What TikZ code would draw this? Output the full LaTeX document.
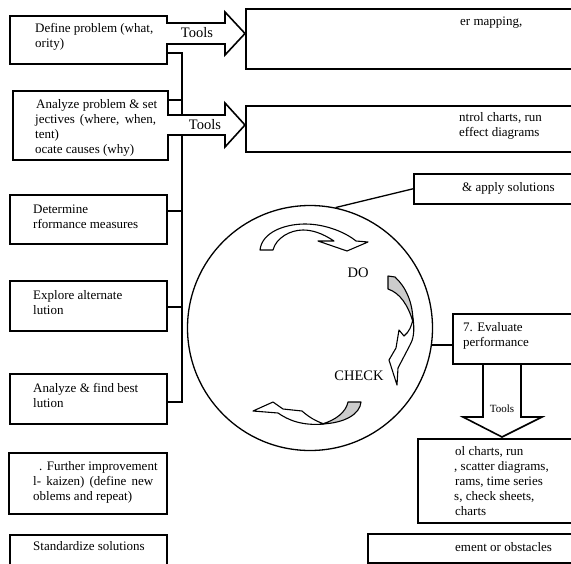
\documentclass[tikz,border=0pt]{standalone}
\usepackage{fontspec}
\setmainfont{Liberation Serif}
\usetikzlibrary{positioning}

\begin{document}
\begin{tikzpicture}[x=1pt,y=-1pt,
    stepbox/.style={draw,line width=1.6pt,inner sep=0pt,anchor=north west,minimum width=157pt},
    boxtext/.style={inner sep=0pt,align=left,font=\fontsize{13}{15}\selectfont},
    blockarrow/.style={draw,line width=1.6pt,fill=white},
    bendarrow/.style={draw,line width=1.1pt,fill=white,line join=round},
    busline/.style={line width=1.6pt}]
  \useasboundingbox (0,0) rectangle (571,563);

  % left column of steps
  \node[stepbox,minimum height=48pt] (define) at (9,15) {};
  \node[stepbox,minimum width=155pt,minimum height=69pt] (analyze) at (12,90) {};
  \node[stepbox,minimum height=49pt] (measure) at (9,194) {};
  \node[stepbox,minimum height=50pt] (explore) at (9,280) {};
  \node[stepbox,minimum height=50pt] (best) at (9,373) {};
  \node[stepbox,minimum width=158pt,minimum height=61pt] (further) at (8,452) {};
  \node[stepbox,minimum height=40pt] (standard) at (9,534) {};

  \node[boxtext,right=26pt of define.west,yshift=2.5pt] (definetext) {Define problem (what,\\ority)};
  \node[boxtext,right=23pt of analyze.west,yshift=-3pt] (analyzetext)
    {\hspace*{1pt}Analyze problem \& set\\\makebox[121pt][s]{jectives (where, when,}\\tent)\\ocate causes (why)};
  \node[boxtext,right=24pt of measure.west,yshift=3pt] (measuretext) {Determine\\rformance measures};
  \node[boxtext,right=24pt of explore.west,yshift=3.5pt] (exploretext) {Explore alternate\\lution};
  \node[boxtext,right=24pt of best.west,yshift=3.5pt] (besttext) {Analyze \& find best\\lution};
  \node[boxtext,right=25pt of further.west,yshift=0.5pt] (furthertext)
    {\hspace*{6pt}. Further improvement\\\makebox[120pt][s]{l- kaizen) (define new}\\oblems and repeat)};
  \node[boxtext,below right=7.5pt and 24pt of standard.north west] (standardtext) {Standardize solutions};

  % bus joining the steps
  \coordinate (bustop) at (182,53);
  \coordinate (busbot) at (182,402);
  \draw[busline] (bustop -| define.east) -- (bustop) -- (busbot) -- (busbot -| best.east);
  \draw[busline] (analyze.east |- 0,100) -- (182,100);
  \draw[busline] (measure.east |- 0,211) -- (182,211);
  \draw[busline] (explore.east |- 0,307) -- (182,307);

  % tools arrows
  \draw[blockarrow] (166,23) -- (225,23) -- (225,12) -- (245,33.5) -- (225,55) -- (225,44) -- (166,44);
  \node[font=\fontsize{14.5}{16}\selectfont] (tools1) at (197,33) {Tools};
  \draw[blockarrow] (167,115) -- (225,115) -- (225,103) -- (245,125) -- (225,147) -- (225,135) -- (167,135);
  \node[font=\fontsize{14.5}{16}\selectfont] (tools2) at (205,125) {Tools};
  \draw[blockarrow] (483,363) -- (483,417) -- (463,417) -- (502,437) -- (542,417) -- (521,417) -- (521,363);
  \node[font=\fontsize{11}{13}\selectfont] (tools3) at (502,409) {Tools};

  % right column
  \node[stepbox,minimum width=335pt,minimum height=60pt] (toolsa) at (245,8) {};
  \node[stepbox,minimum width=335pt,minimum height=46pt] (toolsb) at (245,105) {};
  \node[stepbox,minimum width=170pt,minimum height=30pt] (apply) at (413,173) {};
  \node[stepbox,minimum width=130pt,minimum height=50pt] (evaluate) at (452,313) {};
  \node[stepbox,minimum width=160pt,minimum height=84pt] (toolsc) at (417,438) {};
  \node[stepbox,minimum width=220pt,minimum height=29pt] (obstacle) at (367,533) {};

  \node[boxtext,anchor=west] (toolsatext) at (460,23) {er mapping,};
  \node[boxtext,anchor=west] (toolsbtext) at (459,126) {ntrol charts, run\\effect diagrams};
  \node[boxtext,anchor=west] (applytext) at (462,188) {\& apply solutions};
  \node[boxtext,anchor=west] (evaluatetext) at (463,335.5) {7. Evaluate\\performance};
  \node[boxtext,anchor=west] (toolsctext) at (454,481.5)
    {\hspace*{1pt}ol charts, run\\, scatter diagrams,\\\hspace*{1pt}rams, time series\\s, check sheets,\\\hspace*{1pt}charts};
  \node[boxtext,anchor=west] (obstacletext) at (455,547) {ement or obstacles};

  % cycle
  \node[draw,circle,line width=1.3pt,minimum size=245pt,inner sep=0pt] (pdca) at (310,328) {};
  \draw[line width=1.3pt] (apply.west) -- (pdca.78);
  \draw[busline] (pdca.-8) -- (pdca.-8 -| evaluate.west);

  \draw[bendarrow] (260,250) .. controls (262,232) and (285,224) .. (305,224)
    .. controls (325,224) and (345,232) .. (356,241) -- (368,242) -- (347,251) -- (318,241) -- (334,241)
    .. controls (322,233) and (312,230) .. (303,230) .. controls (290,230) and (276,238) .. (273,250) -- cycle;

  \draw[bendarrow] (413,318) .. controls (415,332) and (413,340) .. (410,345) -- (398,368) -- (397,385)
    -- (389,360) -- (396,348) -- (399,330) -- (404,336) .. controls (409,332) and (412,326) .. (413,318) -- cycle;
  \draw[bendarrow,fill=gray!40] (388,276) -- (395,277) .. controls (406,287) and (413,303) .. (413,322)
    .. controls (408,305) and (400,293) .. (388,289) -- cycle;

  \draw[bendarrow] (324,424) .. controls (302,426) and (288,420) .. (278,413) -- (253,411) -- (273,402)
    -- (283,409) -- (302,411) .. controls (310,418) and (316,421) .. (324,424) -- cycle;
  \draw[bendarrow,fill=gray!40] (348,402) -- (361,402) .. controls (360,414) and (345,423) .. (322,424)
    .. controls (336,420) and (346,412) .. (348,402) -- cycle;

  \node[font=\fontsize{14.5}{16}\selectfont] (do) at (358,273) {DO};
  \node[font=\fontsize{14.5}{16}\selectfont] (check) at (359,376) {CHECK};
\end{tikzpicture}
\end{document}
